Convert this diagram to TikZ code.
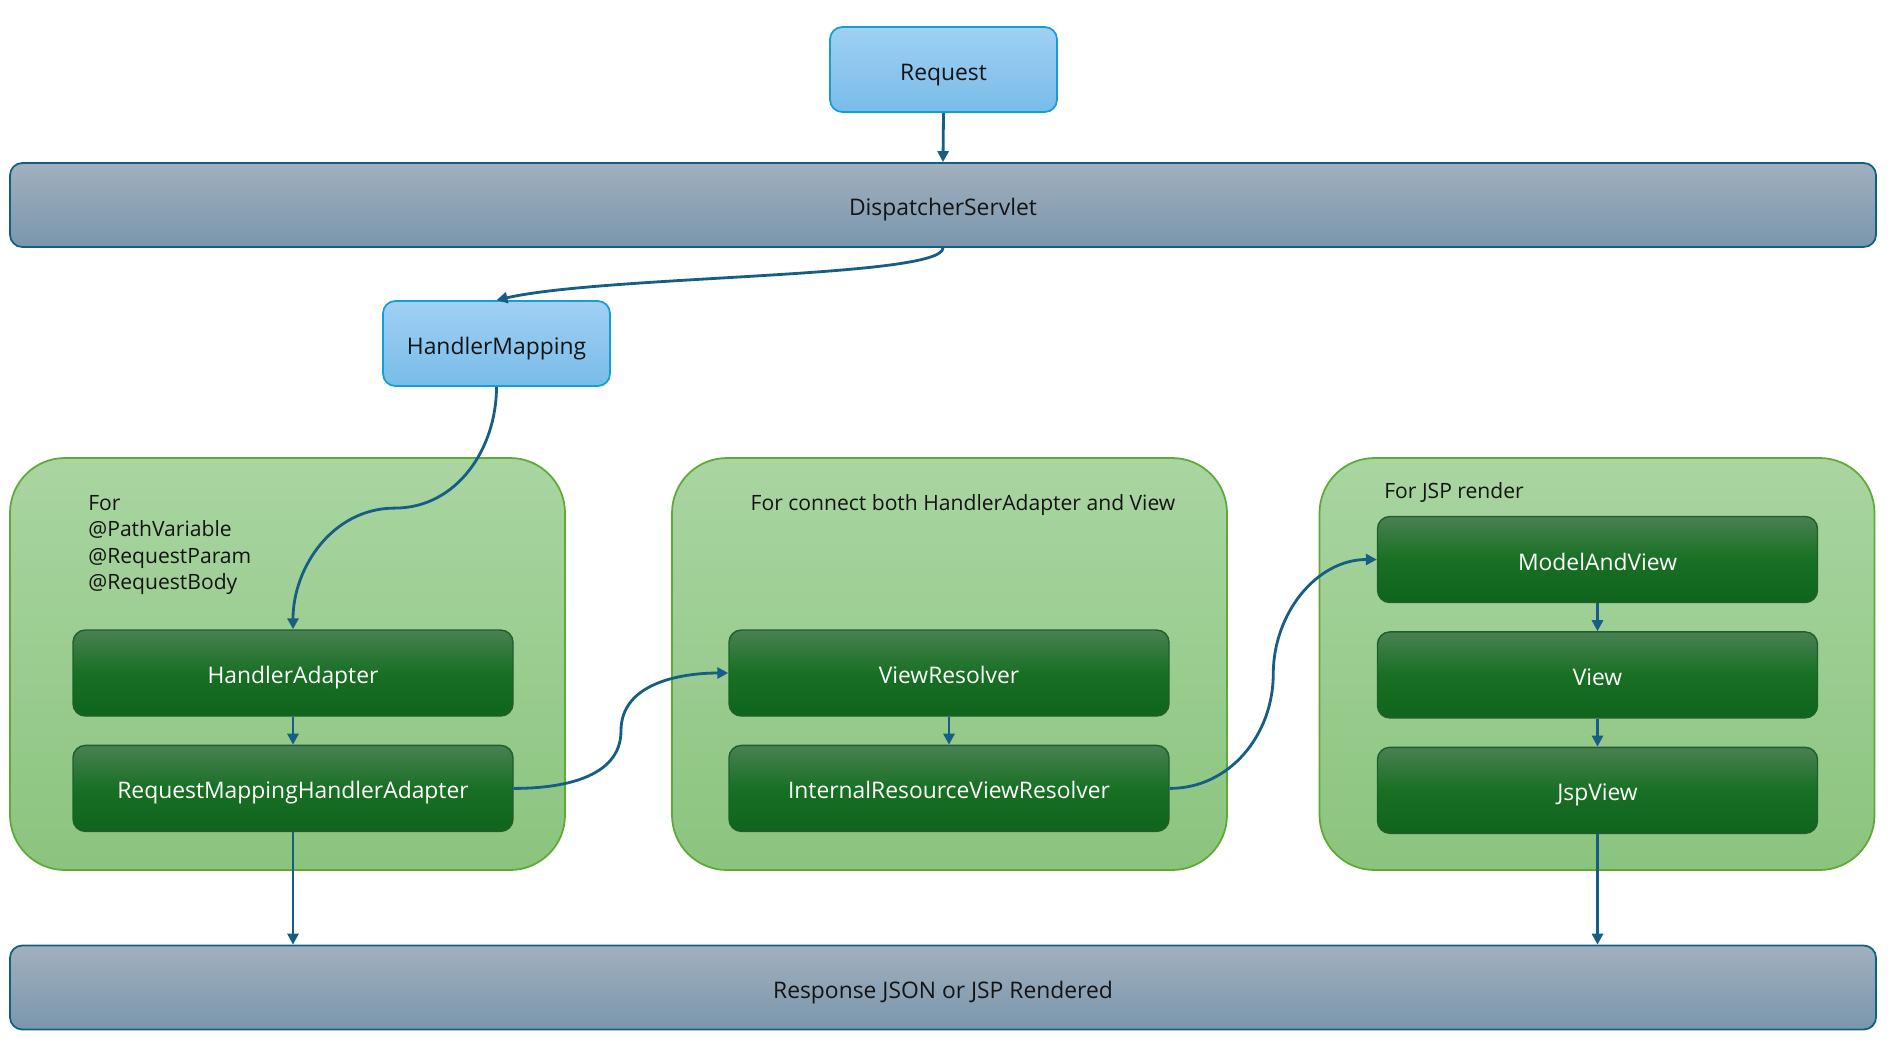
\documentclass[tikz,border=0pt]{standalone}
\usepackage{fontspec}
\setmainfont{Open Sans}
\usepackage{tikz}
\usetikzlibrary{arrows.meta,positioning,calc}
\definecolor{ink}{RGB}{20,20,20}
\definecolor{flow}{RGB}{22,94,134}
\definecolor{skyTop}{RGB}{160,208,244}
\definecolor{skyBot}{RGB}{120,188,233}
\definecolor{skyLine}{RGB}{20,158,212}
\definecolor{slateTop}{RGB}{161,176,190}
\definecolor{slateBot}{RGB}{122,150,172}
\definecolor{slateLine}{RGB}{18,96,128}
\definecolor{leafTop}{RGB}{169,213,161}
\definecolor{leafBot}{RGB}{139,196,126}
\definecolor{leafLine}{RGB}{94,170,54}
\definecolor{pineTop}{RGB}{74,128,82}
\definecolor{pineMid}{RGB}{24,112,36}
\definecolor{pineBot}{RGB}{16,100,28}
\definecolor{pineLine}{RGB}{30,96,42}
\tikzset{
  boxtext/.style={font=\fontsize{13}{15}\selectfont,text height=12pt,text depth=0pt,inner sep=0pt},
  sky/.style={boxtext,draw=skyLine,line width=1pt,rounded corners=7pt,top color=skyTop,bottom color=skyBot,
    minimum width=4.54cm,minimum height=1.7cm,text=ink},
  slate/.style={boxtext,draw=slateLine,line width=1pt,rounded corners=7pt,top color=slateTop,bottom color=slateBot,
    minimum width=37.32cm,minimum height=1.68cm,text=ink},
  grp/.style={draw=leafLine,line width=1pt,rounded corners=1.1cm,top color=leafTop,bottom color=leafBot,
    minimum width=11.1cm,minimum height=8.24cm,inner sep=0pt},
  brick/.style={boxtext,draw=pineLine,line width=0.8pt,rounded corners=7pt,top color=pineTop,bottom color=pineBot,
    middle color=pineMid,minimum width=8.8cm,minimum height=1.72cm,text=white},
  note/.style={font=\fontsize{12}{15}\selectfont,inner sep=0pt,text=ink},
  arr/.style={-{Triangle[length=2.2mm,width=2.2mm]},line width=1.6pt,flow},
}
\begin{document}
\begin{tikzpicture}[node distance=0.56cm]
  \useasboundingbox (0,0) rectangle (38.04,-21.06);
  % entry
  \node[sky] (req) at (18.87,-1.39) {Request};
  \node[slate] (ds) at (18.86,-4.10) {DispatcherServlet};
  \node[sky] (hm) at (9.93,-6.87) {HandlerMapping};
  % groups
  \node[grp] (grpA) at (5.75,-13.28) {};
  \node[grp] (grpB) at (18.99,-13.28) {};
  \node[grp] (grpC) at (31.94,-13.28) {};
  \node[note,anchor=north west,align=left] (noteA) at (1.76,-9.90)
    {For\\@PathVariable\\@RequestParam\\@RequestBody};
  \node[note,anchor=base] (noteB) at (19.26,-10.20) {For connect both HandlerAdapter and View};
  \node[note,anchor=base west] (noteC) at (27.68,-9.96) {For JSP render};
  % bricks
  \node[brick] (ha) at (5.86,-13.46) {HandlerAdapter};
  \node[brick,below=of ha] (rmha) {RequestMappingHandlerAdapter};
  \node[brick] (vr) at (18.98,-13.46) {ViewResolver};
  \node[brick,below=of vr] (irvr) {InternalResourceViewResolver};
  \node[brick] (mav) at (31.95,-11.19) {ModelAndView};
  \node[brick,below=of mav] (view) {View};
  \node[brick,below=of view] (jsp) {JspView};
  \node[slate] (resp) at (18.86,-19.75) {Response JSON or JSP Rendered};
  % bends of the curved links
  \coordinate (kinkA) at ($(hm.south)!0.5!(ha.north)$);
  \coordinate (kinkB) at ($(rmha.east)!0.5!(vr.west)$);
  \coordinate (kinkC) at ($(irvr.east)!0.5!(mav.west)$);
  % flow
  \draw[arr] (req.south) -- (ds.north);
  \draw[arr] (ds.south) .. controls +(0,-0.6) and +(2.2,0.5) .. (hm.north);
  \draw[arr] (hm.south) to[out=-90,in=0] (kinkA) to[out=180,in=90] (ha.north);
  \draw[arr] (ha.south) -- (rmha.north);
  \draw[arr] (rmha.east) to[out=0,in=-90] (kinkB) to[out=90,in=180] (vr.west);
  \draw[arr] (vr.south) -- (irvr.north);
  \draw[arr] (irvr.east) to[out=0,in=-90] (kinkC) to[out=90,in=180] (mav.west);
  \draw[arr] (mav.south) -- (view.north);
  \draw[arr] (view.south) -- (jsp.north);
  \draw[arr] (rmha.south) -- (rmha.south |- resp.north);
  \draw[arr] (jsp.south) -- (jsp.south |- resp.north);
\end{tikzpicture}
\end{document}
